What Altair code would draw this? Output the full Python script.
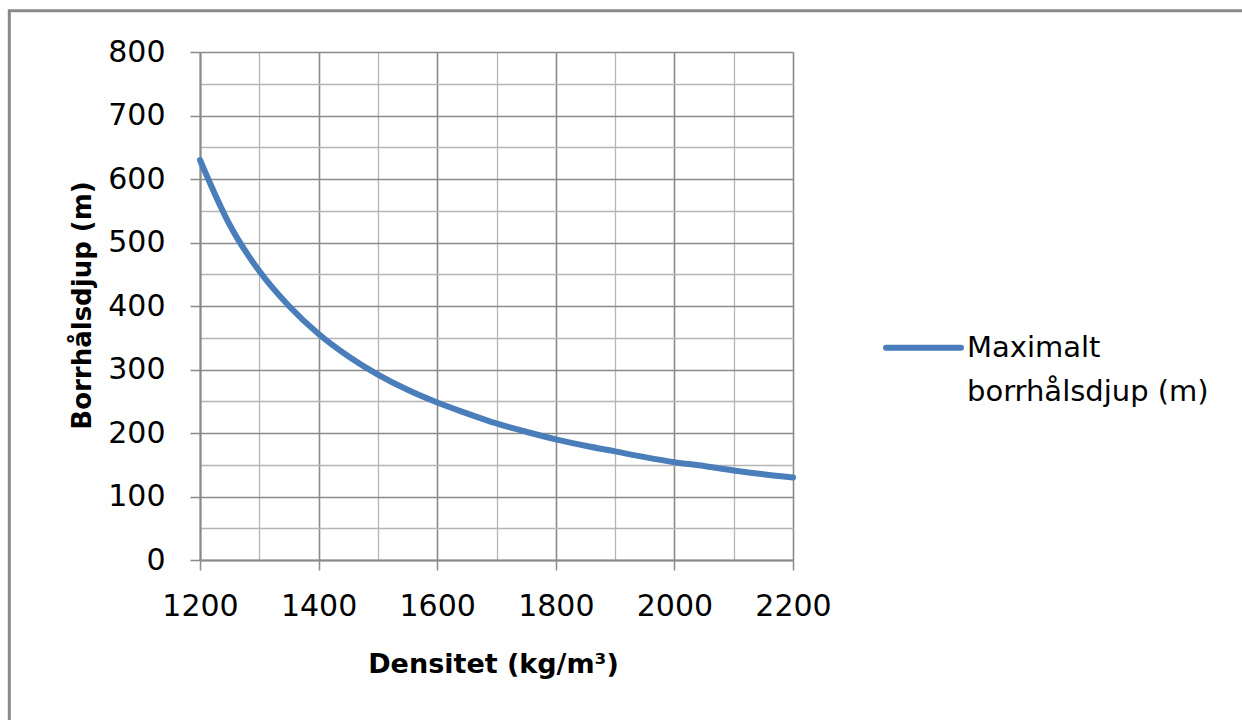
import altair as alt
import pandas as pd

# Data
densitet = [1200, 1250, 1300, 1350, 1400, 1450, 1500, 1550, 1600, 1650, 1700,
            1750, 1800, 1850, 1900, 1950, 2000, 2050, 2100, 2150, 2200]
djup = [630, 528, 455, 400, 356, 321, 292, 268, 248, 231, 215,
        202, 190, 180, 171, 162, 154, 148, 141, 135, 130]
series_name = "Maximalt\nborrhålsdjup (m)"
x_ticks = [1200, 1300, 1400, 1500, 1600, 1700, 1800, 1900, 2000, 2100, 2200]
y_ticks = [0, 50, 100, 150, 200, 250, 300, 350, 400, 450, 500, 550, 600, 650, 700, 750, 800]
x_title = "Densitet (kg/m³)"
y_title = "Borrhålsdjup (m)"

df = pd.DataFrame({"Densitet": densitet, "Djup": djup})

FONT = "DejaVu Sans"
LINE_COLOR = "#4A7EBB"
MAJOR = "#8a8a8a"
MINOR = "#b5b5b5"

W, H = 593, 508

x_axis = alt.Axis(
    values=x_ticks,
    title=x_title,
    format="d",
    labelExpr="datum.value % 200 === 0 ? datum.label : ''",
    labelFont=FONT, labelFontSize=30, labelColor="black", labelPadding=21,
    labelFlush=False, labelOverlap=False,
    titleFont=FONT, titleFontSize=27, titleFontWeight="bold", titleColor="black",
    titleX=293, titleY=112, titleBaseline="alphabetic",
    domainColor=MAJOR, domainWidth=2,
    tickSize=10, tickColor=MAJOR, tickWidth=1.5,
    tickOpacity=alt.condition("datum.value % 200 === 0", alt.value(1), alt.value(0)),
    grid=True,
    gridColor=alt.condition("datum.value % 200 === 0", alt.value(MAJOR), alt.value(MINOR)),
    gridWidth=alt.condition("datum.value % 200 === 0", alt.value(1.6), alt.value(1.3)),
)

y_axis = alt.Axis(
    values=y_ticks,
    title=y_title,
    format="d",
    labelExpr="datum.value % 100 === 0 ? datum.label : ''",
    labelFont=FONT, labelFontSize=30, labelColor="black", labelPadding=25,
    labelFlush=False, labelOverlap=False,
    titleFont=FONT, titleFontSize=26, titleFontWeight="bold", titleColor="black",
    titleX=-110, titleY=253, titleBaseline="alphabetic",
    domainColor=MAJOR, domainWidth=2,
    tickSize=10, tickColor=MAJOR, tickWidth=1.5,
    tickOpacity=alt.condition("datum.value % 100 === 0", alt.value(1), alt.value(0)),
    grid=True,
    gridColor=alt.condition("datum.value % 100 === 0", alt.value(MAJOR), alt.value(MINOR)),
    gridWidth=alt.condition("datum.value % 100 === 0", alt.value(1.6), alt.value(1.3)),
)

line = alt.Chart(df).mark_line(
    color=LINE_COLOR, strokeWidth=6, interpolate="monotone", strokeCap="round"
).encode(
    x=alt.X("Densitet:Q", scale=alt.Scale(domain=[1200, 2200], nice=False, zero=False), axis=x_axis),
    y=alt.Y("Djup:Q", scale=alt.Scale(domain=[0, 800], nice=False), axis=y_axis),
)

one = pd.DataFrame({"label": [series_name]})

legend_line = alt.Chart(one).mark_rule(
    color=LINE_COLOR, strokeWidth=6, strokeCap="round"
).encode(x=alt.value(686), x2=alt.value(761), y=alt.value(295.7))

legend_text = alt.Chart(one).mark_text(
    font=FONT, fontSize=29, color="black", align="left", baseline="alphabetic",
    lineBreak="\n", lineHeight=44
).encode(x=alt.value(767), y=alt.value(305), text="label:N")

frame = alt.Chart(one).mark_rect(
    fillOpacity=0, stroke="#898989", strokeWidth=3
).encode(x=alt.value(-190.7), x2=alt.value(1100), y=alt.value(-41.2), y2=alt.value(720))

chart = alt.layer(frame, line, legend_line, legend_text).properties(
    width=W, height=H,
    autosize=alt.AutoSizeParams(type="none"),
    padding={"left": 200, "top": 52, "right": 449, "bottom": 160},
    background="white",
).configure_view(stroke=None)

chart.save("out.html", embed_options={"renderer": "svg", "actions": False})
